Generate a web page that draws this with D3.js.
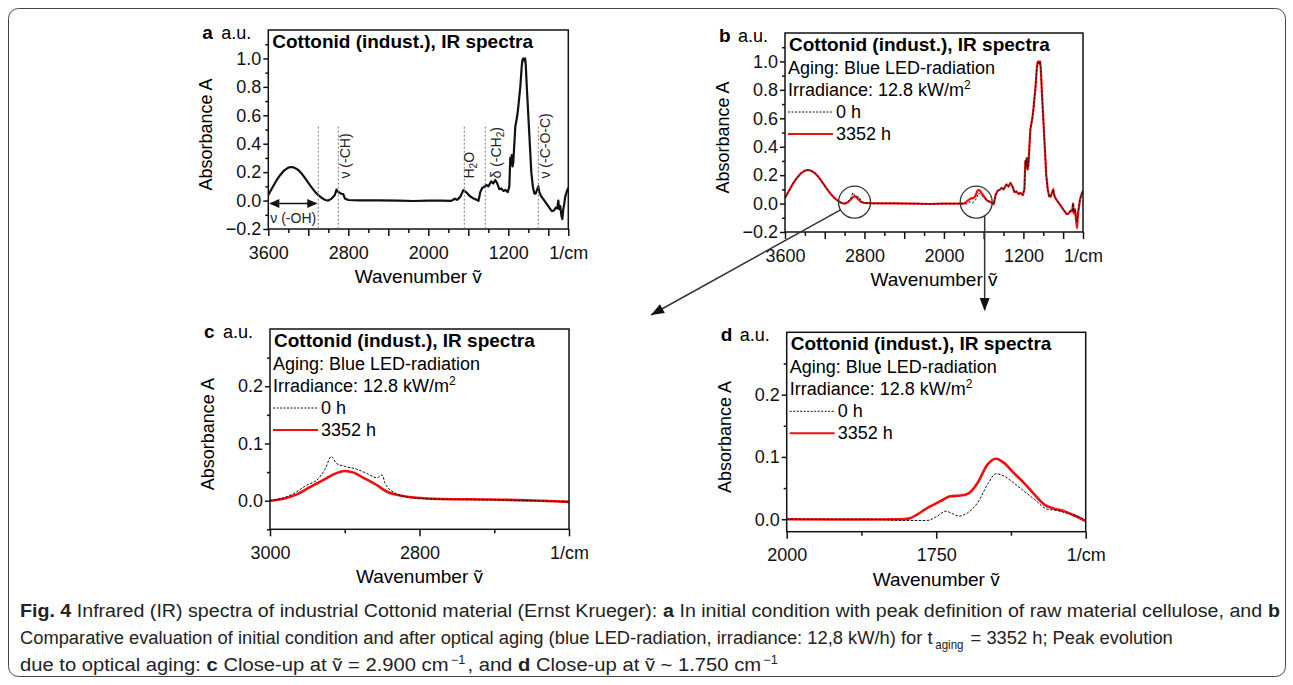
<!DOCTYPE html>
<html>
<head>
<meta charset="utf-8">
<script src="https://cdn.jsdelivr.net/npm/d3@7"></script>
<style>
body { margin: 0; background: #fff; }
svg { display: block; font-family: "Liberation Sans", Arial, sans-serif; }
</style>
</head>
<body>
<svg width="1293" height="685"></svg>
<script>
// full IR spectra, [wavenumber 1/cm, absorbance]
const spectrum0h = [
  [3600,0.04],[3560,0.09],[3520,0.14],[3480,0.18],[3440,0.213],[3400,0.232],[3370,0.236],[3340,0.232],
  [3300,0.215],[3260,0.185],[3220,0.145],[3180,0.105],[3140,0.068],[3100,0.038],[3060,0.016],[3030,0.004],
  [3000,0.0],[2970,0.012],[2950,0.027],[2935,0.039],[2918,0.077],[2900,0.06],[2870,0.048],[2850,0.045],
  [2835,0.015],[2800,0.004],[2700,0.002],[2500,0.001],[2300,0.0],[2150,-0.003],[2000,0.0],[1866,0.0],
  [1770,-0.002],[1734,0.013],[1712,0.005],[1681,0.026],[1650,0.073],[1620,0.058],[1586,0.032],[1547,0.014],
  [1513,0.005],[1498,-0.002],[1480,0.06],[1460,0.09],[1440,0.095],[1420,0.11],[1400,0.1],[1370,0.135],
  [1350,0.12],[1330,0.145],[1310,0.12],[1290,0.08],[1270,0.085],[1250,0.068],[1230,0.075],[1205,0.06],
  [1190,0.1],[1180,0.3],[1172,0.26],[1165,0.32],[1158,0.24],[1150,0.27],[1130,0.52],[1110,0.6],
  [1100,0.66],[1080,0.8],[1065,0.95],[1058,0.99],[1050,1.0],[1040,0.985],[1032,1.0],[1025,0.95],
  [1015,0.8],[1000,0.6],[985,0.4],[970,0.2],[955,0.1],[940,0.05],[928,0.048],[915,0.07],
  [900,0.1],[890,0.06],[875,0.035],[850,0.01],[820,-0.02],[790,-0.05],[765,-0.075],[745,-0.07],
  [725,-0.05],[710,-0.055],[700,0.0],[692,-0.06],[680,-0.04],[668,-0.11],[660,-0.13],[650,-0.06],
  [640,-0.02],[630,0.03],[612,0.07],[600,0.09]
];
const spectrum3352h = [
  [3600,0.04],[3560,0.09],[3520,0.14],[3480,0.18],[3440,0.213],[3400,0.232],[3370,0.236],[3340,0.232],
  [3300,0.215],[3260,0.185],[3220,0.145],[3180,0.105],[3140,0.068],[3100,0.038],[3060,0.016],[3030,0.004],
  [3000,0.0],[2982,0.0035],[2964,0.011],[2946,0.024],[2929,0.036],[2915,0.046],[2900,0.052],[2888,0.049],
  [2875,0.04],[2857,0.027],[2844,0.016],[2826,0.009],[2804,0.005],[2700,0.002],[2500,0.001],[2300,0.0],
  [2150,-0.003],[2000,0.0],[1866,0.0],[1810,0.0],[1796,0.001],[1782,0.0075],[1765,0.018],[1743,0.029],
  [1726,0.037],[1709,0.038],[1695,0.042],[1681,0.058],[1664,0.088],[1650,0.097],[1636,0.09],[1620,0.074],
  [1603,0.058],[1586,0.04],[1569,0.0235],[1553,0.017],[1536,0.013],[1519,0.006],[1498,-0.003],[1480,0.06],
  [1460,0.09],[1440,0.095],[1420,0.11],[1400,0.1],[1370,0.135],[1350,0.12],[1330,0.145],[1310,0.12],
  [1290,0.08],[1270,0.085],[1250,0.068],[1230,0.075],[1205,0.06],[1190,0.1],[1180,0.3],[1172,0.26],
  [1165,0.32],[1158,0.24],[1150,0.27],[1130,0.52],[1110,0.6],[1100,0.66],[1080,0.8],[1065,0.95],
  [1058,0.99],[1050,1.0],[1040,0.985],[1032,1.0],[1025,0.95],[1015,0.8],[1000,0.6],[985,0.4],
  [970,0.2],[955,0.1],[940,0.05],[928,0.048],[915,0.07],[900,0.1],[890,0.06],[875,0.035],
  [850,0.01],[820,-0.02],[790,-0.05],[765,-0.075],[745,-0.07],[725,-0.05],[710,-0.055],[700,0.0],
  [692,-0.07],[680,-0.04],[668,-0.13],[660,-0.17],[650,-0.07],[640,-0.02],[630,0.03],[612,0.07],[600,0.09]
];

// close-up around 2900 1/cm
const closeupC0h = [
  [3000,0.0],[2982,0.005],[2969,0.012],[2951,0.027],[2935,0.039],[2926,0.056],[2918,0.077],[2911,0.065],
  [2900,0.06],[2884,0.055],[2871,0.048],[2857,0.04],[2850,0.045],[2846,0.03],[2835,0.015],[2817,0.0065],
  [2795,0.0035],[2750,0.002],[2683,0.001],[2600,-0.002]
];
const closeupC3352h = [
  [3000,0.0],[2982,0.0035],[2964,0.011],[2946,0.024],[2929,0.036],[2915,0.046],[2900,0.052],[2888,0.049],
  [2875,0.04],[2857,0.027],[2844,0.016],[2826,0.009],[2804,0.005],[2772,0.003],[2705,0.002],[2638,0.0],
  [2600,-0.002]
];

// close-up around 1750 1/cm
const closeupD0h = [
  [2000,0],[1866,0],[1799,-0.002],[1765,-0.002],[1748,0.005],[1734,0.013],[1723,0.009],[1712,0.005],
  [1698,0.01],[1681,0.026],[1664,0.056],[1650,0.073],[1636,0.069],[1620,0.058],[1603,0.045],[1586,0.032],
  [1564,0.016],[1547,0.014],[1530,0.009],[1513,0.005],[1500,-0.002]
];
const closeupD3352h = [
  [2000,0],[1866,-0.0005],[1810,0],[1796,0.001],[1782,0.0075],[1765,0.018],[1754,0.0235],[1743,0.029],
  [1726,0.037],[1709,0.038],[1695,0.042],[1681,0.058],[1664,0.088],[1650,0.097],[1636,0.09],[1620,0.074],
  [1603,0.058],[1586,0.04],[1569,0.0235],[1553,0.017],[1536,0.013],[1519,0.006],[1500,-0.003]
];

// peak markers in panel a
const peakLines = [3100, 2900, 1640, 1430, 900];
const seriesNames = ["0 h", "3352 h"];

const svg = d3.select("svg");
const FONT = "'Liberation Sans', Arial, sans-serif";

// outer frame
svg.append("rect")
  .attr("x", 8.5).attr("y", 8.5).attr("width", 1277).attr("height", 668)
  .attr("rx", 10).attr("fill", "none").attr("stroke", "#444").attr("stroke-width", 1);

function drawPanel(p) {
  const x = d3.scaleLinear().domain(p.xDomain).range([p.left, p.right]);
  const y = d3.scaleLinear().domain(p.yDomain).range([p.bottom, p.top]);
  const g = svg.append("g");

  svg.append("clipPath").attr("id", "clip-" + p.id)
    .append("rect")
    .attr("x", p.left).attr("y", p.top)
    .attr("width", p.right - p.left).attr("height", p.bottom - p.top);

  const styleAxis = a => {
    a.select(".domain").remove();
    a.selectAll("line").attr("stroke", "#111").attr("stroke-width", 1.5);
    a.selectAll("text").attr("font-size", 18).attr("font-family", FONT).attr("fill", "#111");
  };

  // x axis: minor, then labelled
  g.append("g").attr("transform", `translate(0,${p.bottom})`)
    .call(d3.axisBottom(x).tickValues(p.xMinor).tickSize(4).tickFormat(""))
    .call(styleAxis);
  g.append("g").attr("transform", `translate(0,${p.bottom})`)
    .call(d3.axisBottom(x).tickValues(p.xMajor).tickSize(7).tickPadding(10)
      .tickFormat(d => d === p.xDomain[1] ? "1/cm" : (p.xLabels.includes(d) ? d : "")))
    .call(styleAxis);

  // y axis
  g.append("g").attr("transform", `translate(${p.left},0)`)
    .call(d3.axisLeft(y).tickValues(p.yMinor).tickSize(3).tickFormat(""))
    .call(styleAxis);
  g.append("g").attr("transform", `translate(${p.left},0)`)
    .call(d3.axisLeft(y).tickValues(p.yMajor).tickSize(5).tickPadding(2).tickFormat(d3.format(".1f")))
    .call(styleAxis);

  // data
  const line = d3.line().x(d => x(d[0])).y(d => y(d[1])).curve(p.curve || d3.curveLinear);
  const plot = g.append("g").attr("clip-path", `url(#clip-${p.id})`);
  if (p.red) {
    plot.append("path").datum(p.red).attr("d", line)
      .attr("fill", "none").attr("stroke", "#f01010").attr("stroke-width", p.redWidth)
      .attr("stroke-linejoin", "round");
  }
  plot.append("path").datum(p.black).attr("d", line)
    .attr("fill", "none").attr("stroke", "#111")
    .attr("stroke-width", p.red ? 1 : 2.2)
    .attr("stroke-dasharray", p.red ? "2.5,1.5" : null)
    .attr("stroke-linejoin", "round");

  // frame
  g.append("rect")
    .attr("x", p.left).attr("y", p.top)
    .attr("width", p.right - p.left).attr("height", p.bottom - p.top)
    .attr("fill", "none").attr("stroke", "#111").attr("stroke-width", 1.5);

  // panel letter and unit
  g.append("text").attr("x", p.left - 66).attr("y", p.top + 9)
    .attr("font-size", 19).attr("font-weight", "bold").text(p.letter);
  g.append("text").attr("x", p.left - 47).attr("y", p.top + 9)
    .attr("font-size", 18).text("a.u.");

  // axis titles
  g.append("text")
    .attr("transform", `translate(${p.left - 56},${(p.top + p.bottom) / 2 + 5}) rotate(-90)`)
    .attr("text-anchor", "middle").attr("font-size", 18).text("Absorbance A");
  g.append("text")
    .attr("x", (p.left + p.right) / 2).attr("y", p.bottom + 54)
    .attr("text-anchor", "middle").attr("font-size", 19).text("Wavenumber \u1E7D");

  // title and legend block
  g.append("text").attr("x", p.left + 4).attr("y", p.top + 18)
    .attr("font-size", 19).attr("font-weight", "bold").text("Cottonid (indust.), IR spectra");
  if (p.red) {
    g.append("text").attr("x", p.left + 3).attr("y", p.top + 41)
      .attr("font-size", 18).text("Aging: Blue LED-radiation");
    const irr = g.append("text").attr("x", p.left + 3).attr("y", p.top + 63).attr("font-size", 18);
    irr.append("tspan").text("Irradiance: 12.8 kW/m");
    irr.append("tspan").attr("font-size", 12).attr("dy", -7).text("2");

    const lx0 = p.left + 3, lx1 = p.left + 48;
    g.append("line").attr("x1", lx0).attr("x2", lx1)
      .attr("y1", p.top + 79).attr("y2", p.top + 79)
      .attr("stroke", "#111").attr("stroke-width", 1).attr("stroke-dasharray", "2,1.5");
    g.append("line").attr("x1", lx0).attr("x2", lx1)
      .attr("y1", p.top + 101).attr("y2", p.top + 101)
      .attr("stroke", "#f01010").attr("stroke-width", 2);
    g.append("text").attr("x", lx1 + 3).attr("y", p.top + 85).attr("font-size", 18).text(seriesNames[0]);
    g.append("text").attr("x", lx1 + 3).attr("y", p.top + 107).attr("font-size", 18).text(seriesNames[1]);
  }
  return { x, y, g };
}

const panelA = drawPanel({
  id: "a", letter: "a", left: 268.3, right: 568.3, top: 30, bottom: 229,
  xDomain: [3600, 600], yDomain: [-0.2, 1.2],
  xMajor: [3600, 3200, 2800, 2400, 2000, 1600, 1200, 800, 600], xLabels: [3600, 2800, 2000, 1200],
  xMinor: d3.range(3400, 600, -400),
  yMajor: [-0.2, 0, 0.2, 0.4, 0.6, 0.8, 1.0], yMinor: [-0.1, 0.1, 0.3, 0.5, 0.7, 0.9, 1.1],
  black: spectrum0h
});

const panelB = drawPanel({
  id: "b", letter: "b", left: 785, right: 1083, top: 33, bottom: 232,
  xDomain: [3600, 600], yDomain: [-0.2, 1.2],
  xMajor: [3600, 3200, 2800, 2400, 2000, 1600, 1200, 800, 600], xLabels: [3600, 2800, 2000, 1200],
  xMinor: d3.range(3400, 600, -400),
  yMajor: [-0.2, 0, 0.2, 0.4, 0.6, 0.8, 1.0], yMinor: [-0.1, 0.1, 0.3, 0.5, 0.7, 0.9, 1.1],
  black: spectrum0h, red: spectrum3352h, redWidth: 2.2
});

drawPanel({
  id: "c", letter: "c", left: 270, right: 569, top: 329, bottom: 529.3,
  xDomain: [3000, 2600], yDomain: [-0.05, 0.3],
  xMajor: [3000, 2800, 2600], xLabels: [3000, 2800], xMinor: [2900, 2700],
  yMajor: [0, 0.1, 0.2], yMinor: [-0.05, 0.05, 0.15, 0.25],
  black: closeupC0h, red: closeupC3352h, redWidth: 2.6, curve: d3.curveMonotoneX
});

drawPanel({
  id: "d", letter: "d", left: 786.7, right: 1085.7, top: 332.3, bottom: 531.7,
  xDomain: [2000, 1500], yDomain: [-0.02, 0.3],
  xMajor: [2000, 1750, 1500], xLabels: [2000, 1750], xMinor: [1875, 1625],
  yMajor: [0, 0.1, 0.2], yMinor: [0.05, 0.15, 0.25],
  black: closeupD0h, red: closeupD3352h, redWidth: 2.6, curve: d3.curveMonotoneX
});

// peak definitions in panel a
const xa = panelA.x, ya = panelA.y, ga = panelA.g;
ga.selectAll(".peak").data(peakLines).enter().append("line")
  .attr("x1", d => xa(d)).attr("x2", d => xa(d))
  .attr("y1", ya(0.52)).attr("y2", ya(-0.2))
  .attr("stroke", "#777").attr("stroke-width", 1).attr("stroke-dasharray", "2,2");

function vLabel(wn, dx, parts) {
  const t = ga.append("text")
    .attr("transform", `translate(${xa(wn) + dx},${ya(0.155)}) rotate(-90)`)
    .attr("font-size", 14).attr("fill", "#222");
  parts.forEach(pt => {
    const s = t.append("tspan").text(pt[0]);
    if (pt[1] === "sub") s.attr("font-size", 10).attr("dy", 3);
    if (pt[1] === "back") s.attr("dy", -3);
  });
}
vLabel(2900, 12, [["\u03BD (-CH)"]]);
vLabel(1640, 10, [["H"], ["2", "sub"], ["O", "back"]]);
vLabel(1430, 16, [["\u03B4 (-CH"], ["2", "sub"], [")", "back"]]);
vLabel(900, 12, [["\u03BD (-C-O-C)"]]);

// nu(-OH) range arrow
function arrowHead(g, x1, y1, x2, y2, len, half) {
  const a = Math.atan2(y2 - y1, x2 - x1);
  const bx = x2 - len * Math.cos(a), by = y2 - len * Math.sin(a);
  const px = -Math.sin(a) * half, py = Math.cos(a) * half;
  g.append("polygon")
    .attr("points", `${x2},${y2} ${bx + px},${by + py} ${bx - px},${by - py}`)
    .attr("fill", "#111");
}
const ohY = ya(-0.02);
ga.append("line").attr("x1", xa(3600) + 2).attr("x2", xa(3100) - 2)
  .attr("y1", ohY).attr("y2", ohY).attr("stroke", "#111").attr("stroke-width", 1.5);
arrowHead(ga, xa(3350), ohY, xa(3600) + 1, ohY, 10, 4.5);
arrowHead(ga, xa(3350), ohY, xa(3100) - 1, ohY, 10, 4.5);
ga.append("text").attr("x", xa(3600) + 2).attr("y", ya(-0.155))
  .attr("font-size", 14).attr("fill", "#222").text("\u03BD (-OH)");

// circles and zoom arrows in panel b
const xb = panelB.x, yb = panelB.y;
const circles = [[2900, 0.01], [1675, 0.01]];
const ann = svg.append("g");
circles.forEach(c => {
  ann.append("circle").attr("cx", xb(c[0])).attr("cy", yb(c[1])).attr("r", 16)
    .attr("fill", "none").attr("stroke", "#333").attr("stroke-width", 1.3);
});
const c1x = xb(2900), c1y = yb(0.01);
const tip1 = [651, 315];
const ang = Math.atan2(tip1[1] - c1y, tip1[0] - c1x);
const s1 = [c1x + 16 * Math.cos(ang), c1y + 16 * Math.sin(ang)];
ann.append("line").attr("x1", s1[0]).attr("y1", s1[1]).attr("x2", tip1[0]).attr("y2", tip1[1])
  .attr("stroke", "#333").attr("stroke-width", 1.5);
arrowHead(ann, s1[0], s1[1], tip1[0], tip1[1], 13, 5);
const a2x = xb(1590);
ann.append("line").attr("x1", a2x).attr("y1", yb(0.01) + 14).attr("x2", a2x).attr("y2", 310)
  .attr("stroke", "#333").attr("stroke-width", 1.5);
arrowHead(ann, a2x, 250, a2x, 311, 13, 5);

// caption: each segment its own text, line squeezed to the reference width
const captionLines = [
  [["Fig. 4", "b"], [" Infrared (IR) spectra of industrial Cottonid material (Ernst Krueger): "], ["a", "b"],
   [" In initial condition with peak definition of raw material cellulose, and "], ["b", "b"]],
  [["Comparative evaluation of initial condition and after optical aging (blue LED-radiation, irradiance: 12,8 kW/h) for t"],
   ["aging", "sub"], [" = 3352 h; Peak evolution"]],
  [["due to optical aging: "], ["c", "b"], [" Close-up at \u1E7D = 2.900 cm"], ["\u22121", "sup"],
   [", and "], ["d", "b"], [" Close-up at \u1E7D ~ 1.750 cm"], ["\u22121", "sup"]]
];
const captionY = [617, 644, 671];
const captionWidth = [1260, 1153, 760];
const cap = svg.append("g").attr("font-family", FONT).attr("fill", "#222");
captionLines.forEach((segs, i) => {
  const row = cap.append("g");
  let cursor = 0;
  segs.forEach(sg => {
    const small = sg[1] === "sub" || sg[1] === "sup";
    if (small) cursor += 2;
    const t = row.append("text")
      .attr("x", cursor)
      .attr("y", sg[1] === "sub" ? 5 : sg[1] === "sup" ? -7 : 0)
      .attr("font-size", small ? 12 : 19)
      .attr("font-weight", sg[1] === "b" ? "bold" : null)
      .style("white-space", "pre")
      .text(sg[0]);
    cursor += t.node().getComputedTextLength() + (small ? 2 : 0);
  });
  const k = captionWidth[i] / cursor;
  row.attr("transform", `translate(20,${captionY[i]}) scale(${k},1)`);
});
</script>
</body>
</html>
